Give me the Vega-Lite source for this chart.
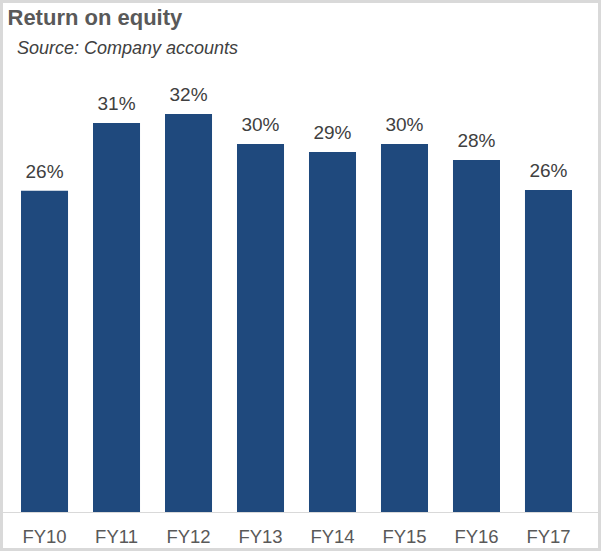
{
  "$schema": "https://vega.github.io/schema/vega-lite/v6.json",
  "width": 598,
  "height": 548,
  "padding": 1.5,
  "autosize": "none",
  "background": "white",
  "config": {
    "view": {"stroke": "#d9d9d9", "strokeWidth": 3},
    "font": "Liberation Sans"
  },
  "title": {
    "text": "Return on equity",
    "anchor": "start",
    "frame": "group",
    "offset": -28,
    "dx": 6,
    "font": "Liberation Sans",
    "fontSize": 22,
    "fontWeight": "bold",
    "color": "#595959"
  },
  "data": {
    "values": [
      {"year": "FY10", "value": 0.2583},
      {"year": "FY11", "value": 0.3127},
      {"year": "FY12", "value": 0.3199},
      {"year": "FY13", "value": 0.2958},
      {"year": "FY14", "value": 0.2894},
      {"year": "FY15", "value": 0.2958},
      {"year": "FY16", "value": 0.2830},
      {"year": "FY17", "value": 0.2588}
    ]
  },
  "encoding": {
    "x": {
      "field": "year",
      "type": "nominal",
      "sort": null,
      "scale": {"paddingInner": 0.347, "paddingOuter": 0.3265, "align": 0.415},
      "axis": {
        "title": null,
        "orient": "bottom",
        "offset": -37.5,
        "labelAngle": 0,
        "ticks": false,
        "domainColor": "#d9d9d9",
        "domainWidth": 1,
        "labelFontSize": 18.5,
        "labelColor": "#595959",
        "labelPadding": 15,
        "labelFont": "Liberation Sans"
      }
    },
    "y": {
      "field": "value",
      "type": "quantitative",
      "scale": {"domain": [-0.03014, 0.4104], "nice": false, "zero": false},
      "axis": {
        "title": "Source: Company accounts",
        "labels": false,
        "ticks": false,
        "domain": false,
        "grid": false,
        "titleAngle": 0,
        "titleAlign": "left",
        "titleBaseline": "alphabetic",
        "titleX": 15,
        "titleY": 51.5,
        "titleFont": "Liberation Sans",
        "titleFontSize": 18,
        "titleFontStyle": "italic",
        "titleFontWeight": "normal",
        "titleColor": "#404040"
      }
    }
  },
  "layer": [
    {
      "mark": {"type": "bar", "color": "#1F497D"},
      "encoding": {"y2": {"datum": 0}}
    },
    {
      "mark": {"type": "text", "baseline": "alphabetic", "dy": -13, "fontSize": 19, "color": "#404040", "font": "Liberation Sans"},
      "encoding": {"text": {"field": "value", "type": "quantitative", "format": ".0%"}}
    }
  ]
}
